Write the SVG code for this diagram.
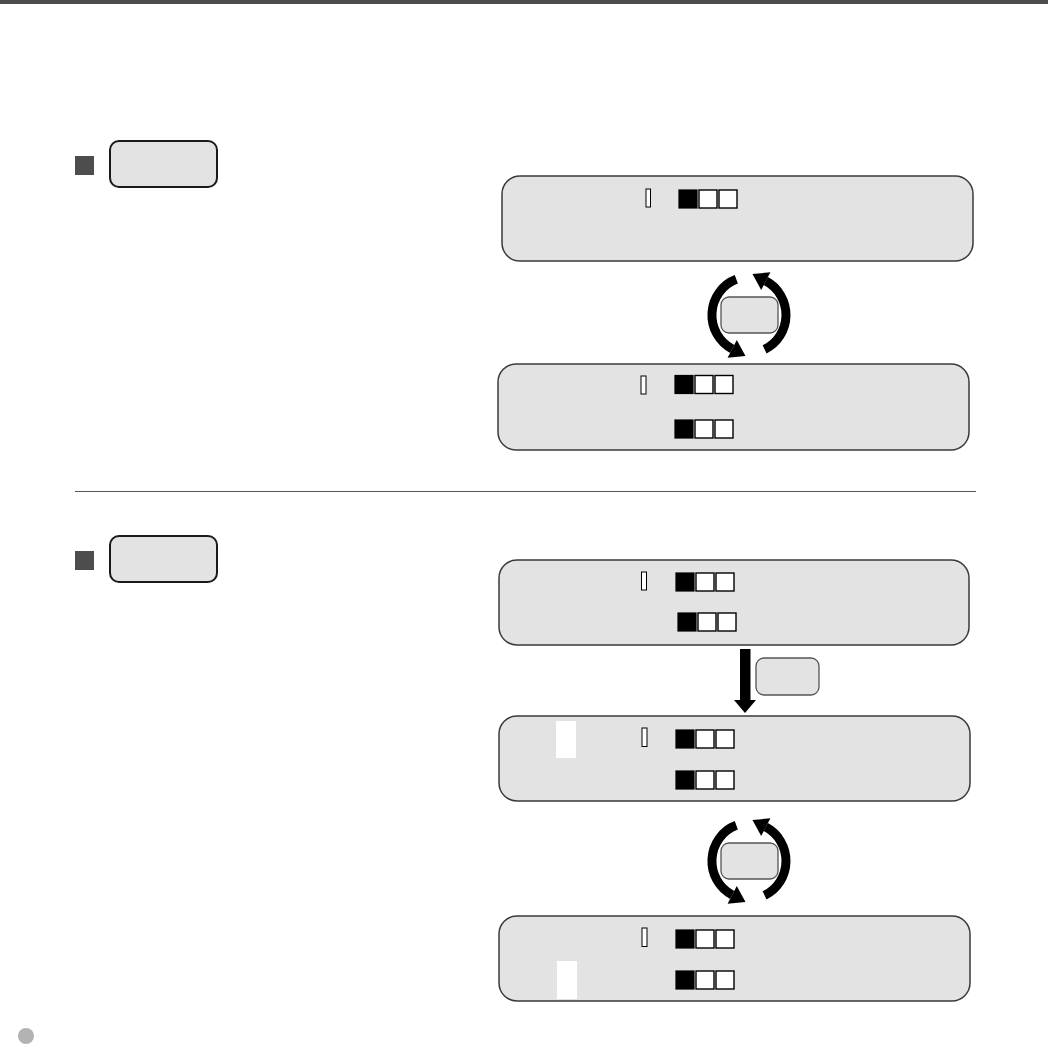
<svg xmlns="http://www.w3.org/2000/svg" width="1048" height="1045" viewBox="0 0 1048 1045">
<style>
.btn{fill:#e3e3e3;stroke:#1a1a1a;stroke-width:2}
.mark{fill:#4d4d4d}
.panel{fill:#e3e3e3;stroke:#3a3a3a;stroke-width:1.5}
.bar{fill:#fff;stroke:#000;stroke-width:1}
.on{fill:#000;stroke:#000;stroke-width:1.2}
.off{fill:#fff;stroke:#000;stroke-width:1.4}
.hole{fill:#fff}
.arc{fill:none;stroke:#000;stroke-width:9}
.key{fill:#e3e3e3;stroke:#555;stroke-width:1.3}
</style>
<defs>
<g id="sq">
<rect class="on" x="0" y="0" width="18" height="18"/>
<rect class="off" x="20" y="0" width="18" height="18"/>
<rect class="off" x="40" y="0" width="18" height="18"/>
</g>
<g id="cycle">
<path class="arc" d="M736.3,279.3 A37,38 0 0 0 732.2,348.9"/>
<polygon points="727.6,357.8 736.8,340.0 745.5,355.9"/>
<path class="arc" d="M764.6,349.4 A37,38 0 0 0 765.8,281.1"/>
<polygon points="770.4,272.2 761.2,290.0 752.5,274.1"/>
<rect class="key" x="721" y="297" width="57" height="36" rx="8"/>
</g>
</defs>
<rect x="0" y="0" width="1048" height="4" fill="#4d4d4d"/>
<line x1="75" y1="491.5" x2="976" y2="491.5" stroke="#555" stroke-width="1"/>
<circle cx="26" cy="1036" r="8" fill="#b3b3b3"/>

<g id="section1-title">
<rect class="mark" x="75" y="156" width="19" height="19"/>
<rect class="btn" x="110" y="141" width="107" height="46" rx="9"/>
</g>
<g id="section2-title">
<rect class="mark" x="75" y="551" width="19" height="19"/>
<rect class="btn" x="110" y="536" width="107" height="46" rx="9"/>
</g>

<g id="panel1">
<rect class="panel" x="502" y="176" width="471" height="85" rx="18"/>
<rect class="bar" x="646" y="189" width="4.5" height="18"/>
<use href="#sq" x="679" y="190"/>
</g>
<g id="panel2">
<rect class="panel" x="498" y="364" width="471" height="86" rx="18"/>
<rect class="bar" x="641" y="376" width="5" height="18"/>
<use href="#sq" x="675" y="375.5"/>
<use href="#sq" x="675" y="420"/>
</g>
<g id="panel3">
<rect class="panel" x="499" y="560" width="470" height="85" rx="18"/>
<rect class="bar" x="641.5" y="572" width="5" height="18"/>
<use href="#sq" x="676" y="573"/>
<use href="#sq" x="678" y="613"/>
</g>
<g id="panel4">
<rect class="panel" x="499" y="716" width="471" height="85" rx="18"/>
<rect class="hole" x="556" y="721" width="20" height="37"/>
<rect class="bar" x="642" y="728" width="5" height="18.5"/>
<use href="#sq" x="676" y="730"/>
<use href="#sq" x="676" y="771"/>
</g>
<g id="panel5">
<rect class="panel" x="499" y="916" width="471" height="85" rx="18"/>
<rect class="hole" x="557" y="961" width="20" height="38"/>
<rect class="bar" x="642" y="928" width="5" height="18.5"/>
<use href="#sq" x="676" y="930"/>
<use href="#sq" x="676" y="971"/>
</g>

<g id="connectors">
<use id="cycle1" href="#cycle"/>
<use id="cycle2" href="#cycle" y="546"/>
<g id="down-arrow">
<rect x="740" y="649" width="10.5" height="52"/>
<polygon points="734,700 756,700 745,713"/>
<rect class="key" x="756" y="658" width="63" height="37" rx="8"/>
</g>
</g>
</svg>
